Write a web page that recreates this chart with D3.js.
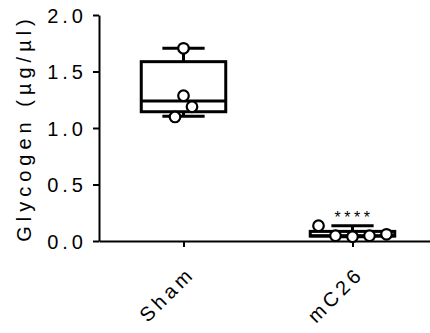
<!DOCTYPE html>
<html>
<head>
<meta charset="utf-8">
<script src="https://cdn.jsdelivr.net/npm/d3@7"></script>
<style>
  body { margin: 0; background: #fff; }
  svg text { font-family: "Liberation Sans", Arial, sans-serif; fill: #000; }
</style>
</head>
<body>
<div id="chart"></div>
<script>
// groups on the x axis
const groups = ['Sham', 'mC26']
// individual samples, glycogen in µg/µl
const shamValues = [1.705, 1.286, 1.188, 1.098]
const mc26Values = [0.135, 0.047, 0.038, 0.047, 0.059]
// swarm slot of each sample (sideways order inside the group)
const shamSlots = [0, 0, 1, -1]
const mc26Slots = [-4, -2, 0, 2, 4]
// box summary: min, q1, median, q3, max
const shamBox = [1.104, 1.144, 1.239, 1.587, 1.705]
const mc26Box = [0.038, 0.043, 0.047, 0.085, 0.135]
const yTicks = [0, 0.5, 1.0, 1.5, 2.0]
const yTitle = 'Glycogen (µg/µl)'
const mc26Sig = '****'

let width = 430
let height = 333
let margin = { left: 99, top: 15, axisY: 241 }

let svg = d3.select('#chart')
    .append('svg')
    .attr('width', width)
    .attr('height', height)

let x = d3.scalePoint()
    .domain(groups)
    .range([margin.left, 437])
    .padding(0.5)

let y = d3.scaleLinear()
    .domain([0, 2])
    .range([margin.axisY, margin.top])

// y axis
let yAxis = d3.axisLeft(y)
    .tickValues(yTicks)
    .tickFormat(d3.format('.1f'))
    .tickSize(6)
    .tickSizeOuter(0)
let gy = svg.append('g')
    .attr('transform', 'translate(' + margin.left + ',0)')
    .call(yAxis)
gy.select('.domain').attr('stroke-width', 2)
gy.selectAll('.tick line').attr('stroke-width', 2)
gy.selectAll('.tick text')
    .attr('x', -12)
    .attr('dy', '0.36em')
    .style('font-size', '20px')
    .style('letter-spacing', '4px')

// x axis
let xAxis = d3.axisBottom(x)
    .tickSize(6)
    .tickSizeOuter(0)
let gx = svg.append('g')
    .attr('transform', 'translate(0,' + margin.axisY + ')')
    .call(xAxis)
gx.select('.domain').attr('stroke-width', 2)
gx.selectAll('.tick line').attr('stroke-width', 2)
gx.selectAll('.tick text')
    .attr('y', 0)
    .attr('dy', 0)
    .attr('transform', 'translate(12,34) rotate(-45)')
    .attr('text-anchor', 'end')
    .style('font-size', '20px')
    .style('letter-spacing', '4px')

// y title
svg.append('text')
    .attr('transform', 'translate(31,' + (y(0) + y(2)) / 2 + ') rotate(-90)')
    .attr('text-anchor', 'middle')
    .style('font-size', '20px')
    .style('letter-spacing', '5px')
    .text(yTitle)

let boxW = x.step() * 0.5
let capW = boxW * 0.5
let slotW = 8.5

function drawGroup (name, values, slots, box) {
    let cx = x(name)
    let g = svg.append('g')
    let [mn, q1, md, q3, mx] = box
    // whiskers
    g.append('line').attr('x1', cx).attr('x2', cx).attr('y1', y(q3)).attr('y2', y(mx))
    g.append('line').attr('x1', cx).attr('x2', cx).attr('y1', y(q1)).attr('y2', y(mn))
    g.append('line').attr('x1', cx - capW / 2).attr('x2', cx + capW / 2).attr('y1', y(mx)).attr('y2', y(mx))
    g.append('line').attr('x1', cx - capW / 2).attr('x2', cx + capW / 2).attr('y1', y(mn)).attr('y2', y(mn))
    g.append('rect')
        .attr('x', cx - boxW / 2)
        .attr('y', y(q3))
        .attr('width', boxW)
        .attr('height', y(q1) - y(q3))
        .attr('fill', 'none')
    g.append('line').attr('x1', cx - boxW / 2).attr('x2', cx + boxW / 2).attr('y1', y(md)).attr('y2', y(md))
    g.selectAll('line, rect')
        .attr('stroke', '#000')
        .attr('stroke-width', 3)
    g.selectAll('circle')
        .data(values)
        .enter()
        .append('circle')
        .attr('cx', function (d, i) { return cx + slots[i] * slotW })
        .attr('cy', function (d) { return y(d) })
        .attr('r', 5.3)
        .attr('fill', '#fff')
        .attr('stroke', '#000')
        .attr('stroke-width', 2.2)
    return g
}

drawGroup('Sham', shamValues, shamSlots, shamBox)
drawGroup('mC26', mc26Values, mc26Slots, mc26Box)

// significance mark
svg.append('text')
    .attr('x', x('mC26') + 1.5)
    .attr('y', y(mc26Box[4]) - 3)
    .attr('text-anchor', 'middle')
    .style('font-size', '16px')
    .style('letter-spacing', '3.5px')
    .text(mc26Sig)
</script>
</body>
</html>
